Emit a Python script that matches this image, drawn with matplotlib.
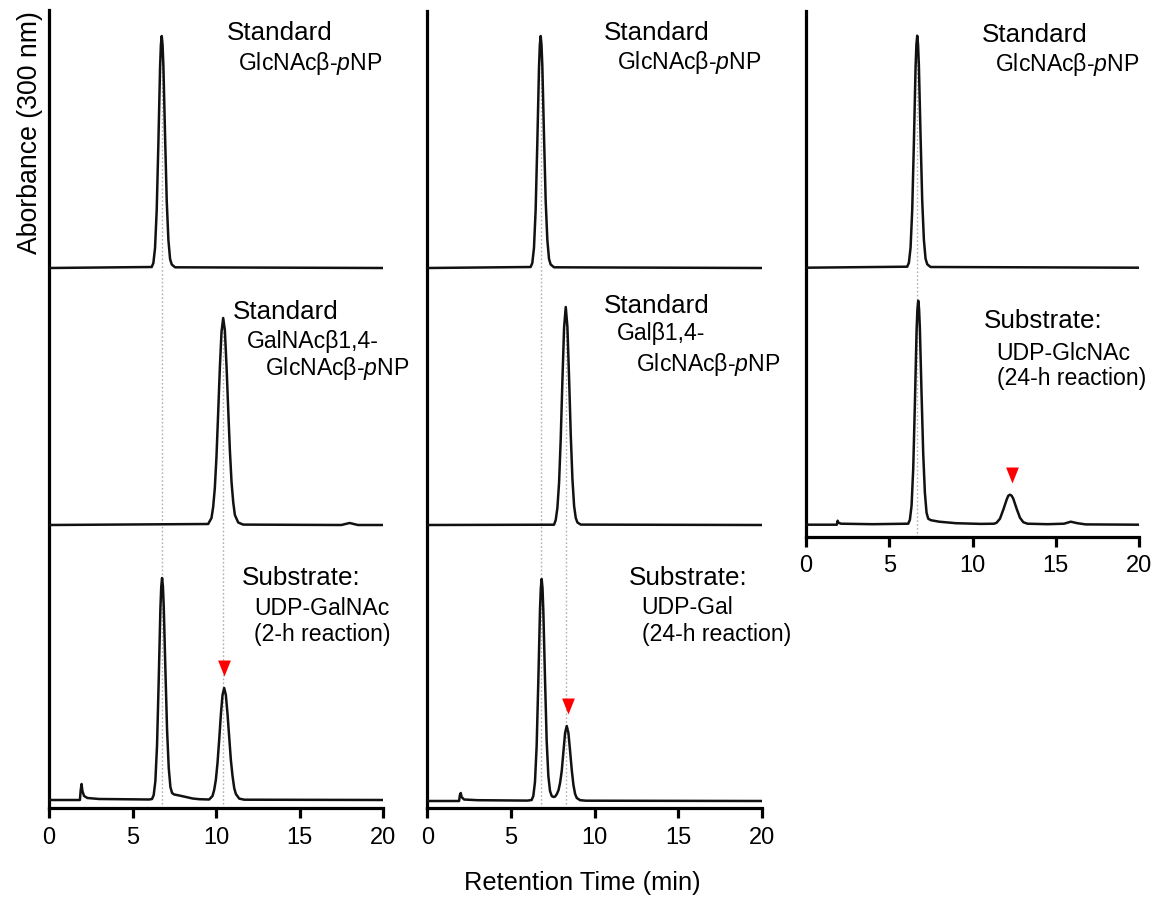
import matplotlib
matplotlib.use("Agg")
import matplotlib.pyplot as plt
import numpy as np

plt.rcParams['font.family'] = ['Liberation Sans', 'DejaVu Sans']
plt.rcParams['mathtext.fontset'] = 'custom'
plt.rcParams['mathtext.rm'] = 'Liberation Sans'
plt.rcParams['mathtext.it'] = 'Liberation Sans:italic'

# ---------------- data (retention time in min, absorbance in arbitrary units) -------------
x_ticks = [0, 5, 10, 15, 20]

# Column 1
t_c1_std = [0, 6.15, 6.25, 6.35, 6.45, 6.55, 6.65, 6.70, 6.75, 6.80, 6.85, 6.95, 7.05, 7.15, 7.25, 7.35, 7.55, 20]
a_c1_std = [0, 0.01, 0.05, 0.20, 0.58, 1.25, 2.00, 2.23, 2.32, 2.23, 2.02, 1.32, 0.67, 0.28, 0.09, 0.035, 0.007, 0]

t_c1_prod = [0, 9.53, 9.73, 9.83, 9.93, 10.03, 10.13, 10.23, 10.33, 10.43, 10.53, 10.63, 10.73, 10.83,
             10.93, 11.03, 11.13, 11.33, 11.63, 17.5, 18.0, 18.5, 20]
a_c1_prod = [0, 0.01, 0.07, 0.18, 0.37, 0.69, 1.12, 1.57, 1.93, 2.07, 1.95, 1.59, 1.16, 0.75,
             0.43, 0.23, 0.10, 0.025, 0.004, 0, 0.02, 0, 0]

t_c1_rxn = [0, 1.85, 1.90, 1.95, 2.00, 2.10, 2.30, 3.0, 6.0,
            6.17, 6.27, 6.37, 6.47, 6.57, 6.67, 6.72, 6.77, 6.82, 6.87, 6.97, 7.07, 7.17, 7.27, 7.37,
            7.5, 7.8, 8.2, 8.6, 9.0,
            9.59, 9.79, 9.89, 9.99, 10.09, 10.19, 10.29, 10.39, 10.49, 10.59, 10.69, 10.79, 10.89,
            10.99, 11.09, 11.19, 11.39, 11.69, 20]
a_c1_rxn = [0, 0, 0.10, 0.16, 0.09, 0.04, 0.02, 0.01, 0.005,
            0.01, 0.05, 0.19, 0.55, 1.20, 1.91, 2.13, 2.22, 2.14, 1.94, 1.30, 0.70, 0.32, 0.13, 0.07,
            0.055, 0.045, 0.03, 0.015, 0.008,
            0.005, 0.04, 0.10, 0.20, 0.37, 0.60, 0.85, 1.05, 1.12, 1.05, 0.86, 0.63, 0.40,
            0.24, 0.12, 0.06, 0.014, 0.003, 0]

# Column 2
t_c2_std = [0, 6.18, 6.28, 6.38, 6.48, 6.58, 6.68, 6.73, 6.78, 6.83, 6.88, 6.98, 7.08, 7.18, 7.28, 7.38, 7.58, 20]
a_c2_std = [0, 0.01, 0.05, 0.20, 0.58, 1.25, 2.00, 2.23, 2.32, 2.23, 2.02, 1.32, 0.67, 0.28, 0.09, 0.035, 0.007, 0]

t_c2_prod = [0, 7.58, 7.68, 7.78, 7.88, 7.98, 8.08, 8.18, 8.28, 8.38, 8.48, 8.58, 8.68, 8.78, 8.88, 8.98, 9.18, 20]
a_c2_prod = [0, 0.003, 0.05, 0.17, 0.42, 0.86, 1.44, 1.97, 2.18, 1.98, 1.47, 0.90, 0.46, 0.19, 0.07, 0.025, 0.004, 0]

t_c2_rxn = [0, 1.90, 1.95, 2.00, 2.05, 2.20, 3.0, 6.0,
            6.24, 6.34, 6.44, 6.54, 6.64, 6.74, 6.79, 6.84, 6.89, 6.94, 7.04, 7.14, 7.24, 7.34, 7.44,
            7.55, 7.65, 7.75, 7.85, 7.94, 8.04, 8.14, 8.24, 8.34, 8.44, 8.54, 8.64, 8.74, 8.84, 8.94,
            9.14, 9.5, 20]
a_c2_rxn = [0, 0, 0.06, 0.08, 0.04, 0.015, 0.008, 0.004,
            0.01, 0.05, 0.19, 0.55, 1.20, 1.91, 2.13, 2.22, 2.13, 1.90, 1.22, 0.60, 0.25, 0.10, 0.05,
            0.04, 0.045, 0.07, 0.11, 0.18, 0.30, 0.49, 0.68, 0.75, 0.68, 0.50, 0.31, 0.16, 0.07, 0.03,
            0.008, 0.003, 0]

# Column 3
t_c3_std = [0, 6.08, 6.18, 6.28, 6.38, 6.48, 6.58, 6.63, 6.68, 6.73, 6.78, 6.88, 6.98, 7.08, 7.18, 7.28, 7.48, 20]
a_c3_std = [0, 0.01, 0.05, 0.20, 0.58, 1.25, 2.00, 2.23, 2.32, 2.23, 2.02, 1.32, 0.67, 0.28, 0.09, 0.035, 0.007, 0]

t_c3_rxn = [0, 1.85, 1.90, 1.95, 2.10, 4.0,
            6.14, 6.24, 6.34, 6.44, 6.54, 6.64, 6.69, 6.74, 6.79, 6.84, 6.94, 7.04, 7.14, 7.24, 7.34,
            7.5, 8.0, 9.0, 10.5, 11.3,
            11.45, 11.65, 11.85, 12.05, 12.15, 12.25, 12.35, 12.45, 12.65, 12.85, 13.05, 13.3,
            14.5, 15.5, 15.9, 16.3, 16.8, 20]
a_c3_rxn = [0, 0, 0.04, 0.02, 0.01, 0.005,
            0.01, 0.05, 0.19, 0.56, 1.21, 1.93, 2.15, 2.24, 2.16, 1.96, 1.31, 0.71, 0.32, 0.12, 0.06,
            0.045, 0.03, 0.015, 0.008, 0.01,
            0.02, 0.06, 0.15, 0.25, 0.29, 0.30, 0.29, 0.26, 0.16, 0.07, 0.025, 0.01,
            0.005, 0.01, 0.03, 0.015, 0.003, 0]

# product retention times marked with red arrowheads
arrow_rt = [10.49, 8.40, 12.35]
# reference retention times (dotted guides)
guide_rt_c1 = [6.77, 10.43]
guide_rt_c2 = [6.81, 8.30]
guide_rt_c3 = [6.65]

labels_c1 = [["Standard", "GlcNAcβ-$p$NP"],
             ["Standard", "GalNAcβ1,4-", "GlcNAcβ-$p$NP"],
             ["Substrate:", "UDP-GalNAc", "(2-h reaction)"]]
labels_c2 = [["Standard", "GlcNAcβ-$p$NP"],
             ["Standard", "Galβ1,4-", "GlcNAcβ-$p$NP"],
             ["Substrate:", "UDP-Gal", "(24-h reaction)"]]
labels_c3 = [["Standard", "GlcNAcβ-$p$NP"],
             ["Substrate:", "UDP-GlcNAc", "(24-h reaction)"]]

y_label = "Aborbance (300 nm)"
x_label = "Retention Time (min)"

# ---------------- layout ----------------
W, H = 1158, 901
fig = plt.figure(figsize=(W / 100, H / 100), dpi=100)


def px_axes(left, right, bottom, top):
    return fig.add_axes([left / W, 1 - bottom / H, (right - left) / W, (bottom - top) / H])


def style(ax, ymax):
    ax.set_xlim(0, 20)
    ax.set_ylim(0, ymax)
    for s in ("top", "right"):
        ax.spines[s].set_visible(False)
    for s in ("left", "bottom"):
        ax.spines[s].set_linewidth(2.3)
    ax.set_yticks([])
    ax.set_xticks(x_ticks)
    ax.set_xticklabels([str(v) for v in x_ticks])
    ax.tick_params(axis="x", direction="out", length=7, width=2.3, labelsize=17, pad=6.5)


def txt(xp, yp, s, size):
    fig.text(xp / W, 1 - yp / H, s, fontsize=size, ha="left", va="baseline", color="black")


TRACE = dict(color="#111111", lw=1.8, zorder=3, solid_joinstyle="round")
GUIDE = dict(color="#b0b0b0", lw=1.0, linestyle=(0, (1.2, 1.6)), zorder=1)
ARROW = [(-0.8, 1), (0.8, 1), (0, -1)]

# column axes (pixel frames)
ax1 = px_axes(49, 383, 808, 10)
ax2 = px_axes(427.3, 761.7, 808, 11)
ax3 = px_axes(806, 1139, 536.7, 11)
style(ax1, 7.98)
style(ax2, 7.97)
style(ax3, 5.257)

offs_c1 = [5.40, 2.83, 0.08]
offs_c2 = [5.40, 2.83, 0.07]
offs_c3 = [2.69, 0.12]

series_c1 = [(t_c1_std, a_c1_std), (t_c1_prod, a_c1_prod), (t_c1_rxn, a_c1_rxn)]
series_c2 = [(t_c2_std, a_c2_std), (t_c2_prod, a_c2_prod), (t_c2_rxn, a_c2_rxn)]
series_c3 = [(t_c3_std, a_c3_std), (t_c3_rxn, a_c3_rxn)]


def draw(ax, series, offs, guides, guide_src, arrow_x):
    for (t, a), o in zip(series, offs):
        ax.plot(t, np.asarray(a) + o, **TRACE)
    # guides from the peak top of the source trace down to the axis
    for g, si in zip(guides, guide_src):
        t, a = series[si]
        top = max(a) + offs[si]
        ax.plot([g, g], [0, top], **GUIDE)
    # arrowhead above product peak in reaction trace
    t, a = series[-1]
    t = np.asarray(t)
    a = np.asarray(a)
    near = np.abs(t - arrow_x) < 0.4
    ytop = a[near].max() + offs[-1] + 0.2
    ax.plot([arrow_x], [ytop], marker=ARROW, markersize=11.5, color="#ff0000",
            markeredgewidth=0, zorder=4, linestyle="none")


draw(ax1, series_c1, offs_c1, guide_rt_c1, [0, 1], arrow_rt[0])
draw(ax2, series_c2, offs_c2, guide_rt_c2, [0, 1], arrow_rt[1])
draw(ax3, series_c3, offs_c3, guide_rt_c3, [0], arrow_rt[2])

HS, SS = 18.7, 16.6
# column 1 labels
txt(227, 40.5, labels_c1[0][0], HS); txt(238, 70, labels_c1[0][1], SS)
txt(233, 319, labels_c1[1][0], HS); txt(247, 348, labels_c1[1][1], SS); txt(265, 375.5, labels_c1[1][2], SS)
txt(242, 585, labels_c1[2][0], HS); txt(254, 615, labels_c1[2][1], SS); txt(254, 641, labels_c1[2][2], SS)
# column 2 labels
txt(604, 40, labels_c2[0][0], HS); txt(616.7, 69, labels_c2[0][1], SS)
txt(604, 313, labels_c2[1][0], HS); txt(616.7, 340.5, labels_c2[1][1], SS); txt(636, 370.5, labels_c2[1][2], SS)
txt(629, 585, labels_c2[2][0], HS); txt(641.7, 614, labels_c2[2][1], SS); txt(641.7, 641, labels_c2[2][2], SS)
# column 3 labels
txt(981.7, 42, labels_c3[0][0], HS); txt(995, 70.5, labels_c3[0][1], SS)
txt(984, 328, labels_c3[1][0], HS); txt(996.7, 360, labels_c3[1][1], SS); txt(996.7, 385, labels_c3[1][2], SS)

fig.text(30 / W, 1 - 133 / H, y_label, rotation=90, fontsize=19.2, ha="center", va="center")
fig.text(582 / W, 1 - 883 / H, x_label, fontsize=18.4, ha="center", va="center")

fig.savefig("out.png", dpi=100, facecolor="white")
